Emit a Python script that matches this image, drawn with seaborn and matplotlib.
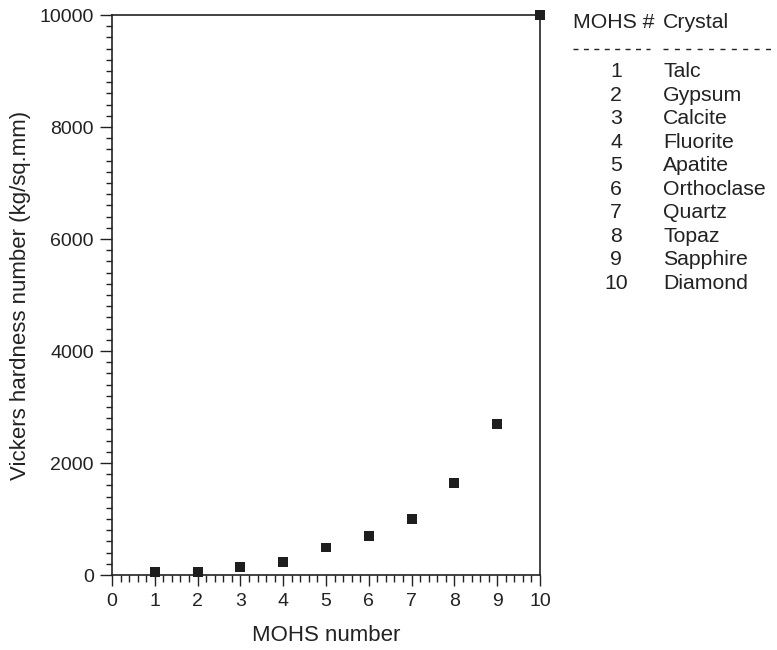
import matplotlib
matplotlib.use("Agg")
import matplotlib.pyplot as plt
from matplotlib.ticker import MultipleLocator
from matplotlib.lines import Line2D
import seaborn as sns
import pandas as pd

mohs = [1, 2, 3, 4, 5, 6, 7, 8, 9, 10]
crystals = ["Talc", "Gypsum", "Calcite", "Fluorite", "Apatite",
            "Orthoclase", "Quartz", "Topaz", "Sapphire", "Diamond"]
vickers = [50, 50, 140, 230, 490, 700, 1000, 1650, 2700, 10000]

df = pd.DataFrame({"mohs": mohs, "vickers": vickers, "crystal": crystals})

sns.set_theme(style="white")
plt.rcParams["font.family"] = ["Liberation Sans", "DejaVu Sans"]

fig = plt.figure(figsize=(7.77, 6.5), dpi=100)
ax = fig.add_axes([112/777, 1-575/650, (540-112)/777, (575-15)/650])

sns.scatterplot(data=df, x="mohs", y="vickers", ax=ax, marker="s", s=50,
                color="#1e1e1e", edgecolor="none", linewidth=0, clip_on=False, zorder=3)

ax.set_xlim(0, 10)
ax.set_ylim(0, 10000)
ax.xaxis.set_major_locator(MultipleLocator(1))
ax.xaxis.set_minor_locator(MultipleLocator(0.2))
ax.yaxis.set_major_locator(MultipleLocator(2000))
ax.yaxis.set_minor_locator(MultipleLocator(200))
ax.tick_params(axis="both", which="both", direction="out", bottom=True, left=True,
               top=False, right=False, color="#222222", width=1.0, labelsize=14,
               labelcolor="#222222")
ax.tick_params(axis="x", which="major", length=8, pad=5)
ax.tick_params(axis="x", which="minor", length=5)
ax.tick_params(axis="y", which="major", length=9, pad=4)
ax.tick_params(axis="y", which="minor", length=4)
for s in ax.spines.values():
    s.set_visible(True)
    s.set_color("#222222")
    s.set_linewidth(1.2)

ax.set_xlabel("MOHS number", fontsize=16, color="#222222", labelpad=11)
ax.set_ylabel("Vickers hardness number (kg/sq.mm)", fontsize=16, color="#222222", labelpad=6)
ax.grid(False)

# Table of crystals
W, H = 777, 650
def fx(px):
    return px / W
def fy(py):
    return 1 - py / H

fs = 15.3
fig.text(fx(573), fy(23), "MOHS #", fontsize=fs, color="#222222", va="center", ha="left")
fig.text(fx(663), fy(23), "Crystal", fontsize=fs, color="#222222", va="center", ha="left")
fig.add_artist(Line2D([fx(573), fx(650)], [fy(49), fy(49)], transform=fig.transFigure,
                      color="#222222", linewidth=1.0, linestyle=(0, (3.6, 3.9))))
fig.add_artist(Line2D([fx(663), fx(772)], [fy(49), fy(49)], transform=fig.transFigure,
                      color="#222222", linewidth=1.0, linestyle=(0, (3.6, 4.6))))
for i, (m, c) in enumerate(zip(mohs, crystals)):
    y = 71.7 + i * 23.5
    fig.text(fx(616), fy(y), str(m), fontsize=fs, color="#222222", va="center", ha="center")
    fig.text(fx(663), fy(y), c, fontsize=fs, color="#222222", va="center", ha="left")

fig.savefig("out.png", dpi=100)
